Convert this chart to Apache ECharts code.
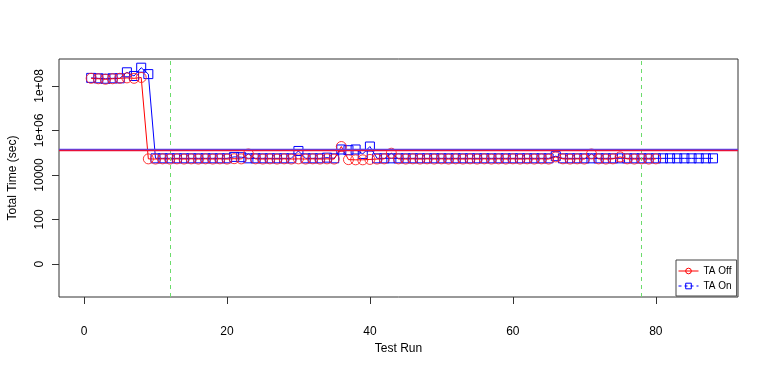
<!DOCTYPE html>
<html><head><meta charset="utf-8">
<script src="https://cdn.jsdelivr.net/npm/echarts@6/dist/echarts.min.js"></script>
<style>html,body{margin:0;padding:0;background:#fff}#c{width:768px;height:369px}</style>
</head><body><div id="c"></div>
<script>
// Test runs and total times (seconds)
var taOff = [
  2.2e8, 2.1e8, 2.0e8, 2.1e8, 2.2e8, 2.3e8, 2.2e8, 2.4e8, 5.3e4, 5.2e4,
  5.3e4, 5.2e4, 5.3e4, 5.2e4, 5.3e4, 5.2e4, 5.3e4, 5.2e4, 5.3e4, 5.2e4,
  5.4e4, 5.3e4, 8.8e4, 5.3e4, 5.2e4, 5.3e4, 5.2e4, 5.3e4, 5.2e4, 5.3e4,
  5.2e4, 5.3e4, 5.2e4, 5.3e4, 5.2e4, 1.9e5, 4.9e4, 4.8e4, 4.8e4, 5.0e4,
  5.2e4, 5.3e4, 9.5e4, 5.3e4, 5.2e4, 5.3e4, 5.2e4, 5.3e4, 5.2e4, 5.3e4,
  5.2e4, 5.3e4, 5.2e4, 5.3e4, 5.2e4, 5.3e4, 5.2e4, 5.3e4, 5.2e4, 5.3e4,
  5.2e4, 5.3e4, 5.2e4, 5.3e4, 5.2e4, 6.5e4, 5.3e4, 5.2e4, 5.3e4, 5.2e4,
  8.8e4, 5.3e4, 5.2e4, 5.3e4, 6.5e4, 5.3e4, 5.2e4, 5.3e4, 5.2e4, 5.3e4
];
var taOn = [
  2.3e8, 2.2e8, 2.1e8, 2.2e8, 2.2e8, 4.1e8, 2.8e8, 6.6e8, 3.4e8, 5.6e4,
  5.6e4, 5.6e4, 5.6e4, 5.6e4, 5.6e4, 5.6e4, 5.6e4, 5.6e4, 5.6e4, 5.6e4,
  6.5e4, 6.3e4, 5.6e4, 5.6e4, 5.6e4, 5.6e4, 5.6e4, 5.6e4, 5.6e4, 1.2e5,
  5.6e4, 5.6e4, 5.6e4, 6.0e4, 5.6e4, 1.4e5, 1.3e5, 1.4e5, 8.8e4, 1.9e5,
  5.6e4, 5.6e4, 5.6e4, 5.6e4, 5.6e4, 5.6e4, 5.6e4, 5.6e4, 5.6e4, 5.6e4,
  5.6e4, 5.6e4, 5.6e4, 5.6e4, 5.6e4, 5.6e4, 5.6e4, 5.6e4, 5.6e4, 5.6e4,
  5.6e4, 5.6e4, 5.6e4, 5.6e4, 5.6e4, 7.0e4, 5.6e4, 5.6e4, 5.6e4, 5.6e4,
  5.6e4, 5.6e4, 5.6e4, 5.6e4, 5.6e4, 5.6e4, 5.6e4, 5.6e4, 5.6e4, 5.6e4,
  5.6e4, 5.6e4, 5.6e4, 5.6e4, 5.6e4, 5.6e4, 5.6e4, 5.6e4
];
var refLineOff = 1.24e5;
var refLineOn = 1.43e5;
var phaseMarks = [12, 78];
var xTicks = [0, 20, 40, 60, 80];
var yTickValues = [0, 100, 10000, 1e6, 1e8];
var yTickLabels = ['0', '100', '10000', '1e+06', '1e+08'];

function tr(v) { return Math.log10(v + 1); }
function toPairs(arr) { return arr.map(function (v, i) { return [i + 1, tr(v)]; }); }
var yTickPos = yTickValues.map(tr);

var font = 'Liberation Sans, Arial, sans-serif';
var chart = echarts.init(document.getElementById('c'), null, {renderer: 'canvas'});
chart.setOption({
  animation: false,
  backgroundColor: '#fff',
  grid: {left: 59, right: 30, top: 59, bottom: 72, show: true, borderColor: '#333', borderWidth: 1,
         containLabel: false, outerBoundsMode: 'none'},
  legend: {
    orient: 'vertical', left: 676, top: 260, itemWidth: 20, itemHeight: 7, itemGap: 5,
    padding: [6, 5, 5, 2], borderColor: '#444', borderWidth: 1, backgroundColor: '#fff',
    textStyle: {fontFamily: font, fontSize: 10, color: '#000'},
    data: [
      {name: 'TA Off', itemStyle: {color: 'rgba(0,0,0,0)', borderColor: '#FF0000', borderWidth: 1}, lineStyle: {width: 1, color: '#FF0000'}},
      {name: 'TA On', itemStyle: {color: 'rgba(0,0,0,0)', borderColor: '#0000FF', borderWidth: 1}, lineStyle: {width: 1, color: '#0000FF', type: [3, 3]}}
    ]
  },
  xAxis: {
    type: 'value', min: -3.5, max: 91.5,
    axisLine: {show: false, onZero: false},
    axisTick: {show: true, inside: false, length: 7, lineStyle: {color: '#333'}, customValues: xTicks},
    axisLabel: {margin: 29, fontFamily: font, fontSize: 12, color: '#000', customValues: xTicks},
    splitLine: {show: false},
    name: 'Test Run', nameLocation: 'middle', nameGap: 46,
    nameTextStyle: {fontFamily: font, fontSize: 12, color: '#000'}
  },
  yAxis: {
    type: 'value', min: -1.48, max: 9.21,
    axisLine: {show: false, onZero: false},
    axisTick: {show: true, inside: false, length: 7, lineStyle: {color: '#333'}, customValues: yTickPos},
    axisLabel: {
      margin: 13, rotate: 90, fontFamily: font, fontSize: 12, color: '#000', customValues: yTickPos,
      formatter: function (v) {
        for (var i = 0; i < yTickPos.length; i++) if (Math.abs(v - yTickPos[i]) < 1e-6) return yTickLabels[i];
        return '';
      }
    },
    splitLine: {show: false},
    name: 'Total Time (sec)', nameLocation: 'middle', nameGap: 40, nameRotate: 90,
    nameTextStyle: {fontFamily: font, fontSize: 12, color: '#000'}
  },
  series: [
    {
      name: 'phases', type: 'line', data: [], silent: true,
      markLine: {
        silent: true, symbol: 'none', label: {show: false},
        lineStyle: {color: '#6CDC6C', type: [4, 4], width: 1},
        data: [{xAxis: phaseMarks[0]}, {xAxis: phaseMarks[1]}]
      }
    },
    {
      name: 'TA On', type: 'line', data: toPairs(taOn),
      symbol: 'rect', symbolSize: 9, showAllSymbol: true,
      itemStyle: {color: 'rgba(0,0,0,0)', borderColor: '#0000FF', borderWidth: 1},
      lineStyle: {color: '#0000FF', width: 1},
      markLine: {
        silent: true, symbol: 'none', label: {show: false},
        lineStyle: {color: '#4A4AFF', type: 'solid', width: 1.3},
        data: [{yAxis: tr(refLineOn)}]
      }
    },
    {
      name: 'TA Off', type: 'line', data: toPairs(taOff),
      symbol: 'circle', symbolSize: 10, showAllSymbol: true,
      itemStyle: {color: 'rgba(0,0,0,0)', borderColor: '#FF2020', borderWidth: 0.9},
      lineStyle: {color: '#FF0000', width: 1},
      markLine: {
        silent: true, symbol: 'none', label: {show: false},
        lineStyle: {color: '#E8103A', type: 'solid', width: 1.3},
        data: [{yAxis: tr(refLineOff)}]
      }
    }
  ]
});
</script></body></html>
